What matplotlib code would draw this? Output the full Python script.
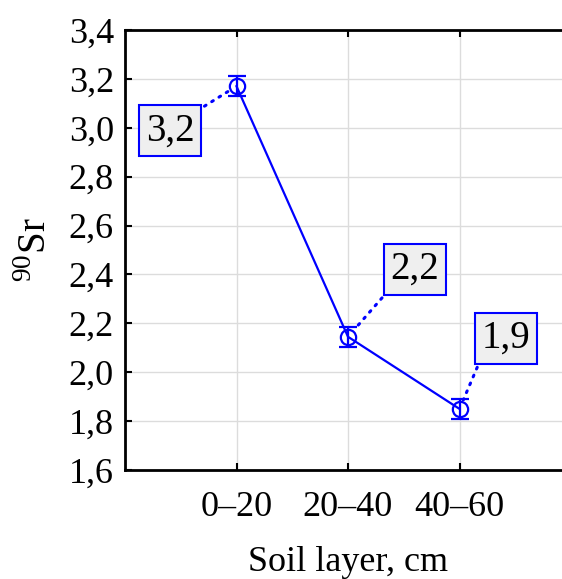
import matplotlib
matplotlib.use("Agg")
import matplotlib.pyplot as plt

plt.rcParams['font.family'] = ['Liberation Serif', 'DejaVu Serif']
plt.rcParams['mathtext.fontset'] = 'custom'
plt.rcParams['mathtext.rm'] = 'Liberation Serif'

layers = ["0\u201320", "20\u201340", "40\u201360"]
sr90 = [3.17, 2.145, 1.85]
sr90_err = [0.04, 0.04, 0.04]
labels = ["3,2", "2,2", "1,9"]
y_ticks = [1.6, 1.8, 2.0, 2.2, 2.4, 2.6, 2.8, 3.0, 3.2, 3.4]

blue = "#0000ff"

fig = plt.figure(figsize=(5.62, 5.79), dpi=100)
ax = fig.add_axes([125 / 562, 109 / 579, 446 / 562, 440 / 579])

xs = [1, 2, 3]
ax.errorbar(xs, sr90, yerr=sr90_err, color=blue, lw=1.6, marker='o',
            mfc='none', mec=blue, ms=11, mew=1.6, capsize=6.5, capthick=1.6,
            elinewidth=1.6, zorder=3)

ax.set_xlim(0, 4)
ax.set_ylim(1.6, 3.4)
ax.set_xticks(xs)
ax.set_xticklabels(layers)
ax.set_yticks(y_ticks)
ax.set_yticklabels([f"{v:.1f}".replace('.', ',') for v in y_ticks])
ax.grid(True, color='#dcdcdc', lw=1)
ax.set_axisbelow(True)

ax.tick_params(direction='in', length=5, width=1.5, labelsize=26,
               top=True, right=False, pad=8)
ax.tick_params(axis='x', pad=15)
for sp in ax.spines.values():
    sp.set_linewidth(2)

ax.set_xlabel("Soil layer, cm", fontsize=26, labelpad=16)
ax.set_ylabel("$^{90}$Sr", fontsize=28, labelpad=10)

# value callouts with dotted leaders
callouts = [(0.404, 2.987, (1, 1)), (2.601, 2.420, (0, 0)), (3.417, 2.138, (0, 0))]
for x, y, lab, (tx, ty, rp) in zip(xs, sr90, labels, callouts):
    ax.annotate(lab, xy=(x, y), xytext=(tx, ty), ha='center', va='center',
                fontsize=28,
                bbox=dict(boxstyle='square,pad=0.18', fc='#efefef', ec=blue, lw=1.5),
                arrowprops=dict(arrowstyle='-', color=blue, lw=2.2,
                                linestyle=(0, (0.6, 2.2)), relpos=rp,
                                shrinkA=2, shrinkB=7),
                zorder=4)

fig.savefig("out.png", dpi=100)
